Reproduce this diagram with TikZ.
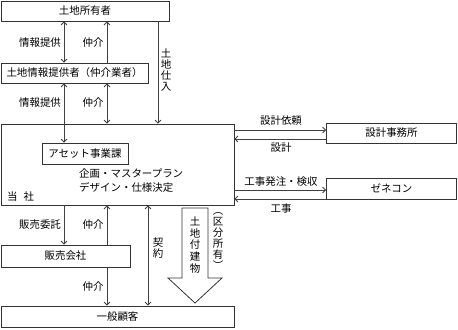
\documentclass[tikz,border=0pt]{standalone}
\usepackage{fontspec}
\setmainfont{Noto Sans CJK JP}
\usetikzlibrary{arrows.meta}

\begin{document}
\begin{tikzpicture}[
    x=1bp, y=-1bp,
    box/.style={
      draw=black!80,
      line width=0.8bp,
      inner sep=0pt,
      font=\fontsize{10.5}{12}\selectfont
    },
    lbl/.style={inner sep=0pt, font=\fontsize{10.5}{12}\selectfont},
    vlbl/.style={inner sep=0pt, align=center, font=\fontsize{10.5}{11}\selectfont},
    arrow/.style={-{Straight Barb[length=3bp, width=6bp]}, draw=black!75, line width=0.8bp},
    biarrow/.style={{Straight Barb[length=3bp, width=6bp]}-{Straight Barb[length=3bp, width=6bp]}, draw=black!75, line width=0.8bp}
  ]
    \useasboundingbox (0,0) rectangle (458,329);

    \node[box, minimum width=168bp, minimum height=20bp] (owner) at (85,11) {土地所有者};
    \node[box, minimum width=147bp, minimum height=20bp] (broker) at (74.5,73) {土地情報提供者（仲介業者）};
    \node[box, minimum width=233bp, minimum height=81bp] (company) at (117.5,164.5) {};
    \node[box, minimum width=86bp, minimum height=21bp] (asset) at (85,153.5) {アセット事業課};
    \node[box, minimum width=130bp, minimum height=20bp] (office) at (391.5,133) {設計事務所};
    \node[box, minimum width=130bp, minimum height=21bp] (gencon) at (391.5,188.5) {ゼネコン};
    \node[box, minimum width=129bp, minimum height=22bp] (sales) at (65.5,256) {販売会社};
    \node[box, minimum width=233bp, minimum height=21bp] (customer) at (117.5,316.5) {一般顧客};

    \node[lbl, anchor=west, align=left, font=\fontsize{10.5}{14}\selectfont] (plan) at (79,181) {企画・マスタープラン\\デザイン・仕様決定};
    \node[lbl, anchor=west] (self) at (7,197) {当\hspace{6bp}社};

    \coordinate (ca) at (64,0);
    \coordinate (cb) at (107,0);
    \coordinate (cc) at (158,0);
    \coordinate (cd) at (148,0);
    \coordinate (ra) at (0,130);
    \coordinate (rb) at (0,139);
    \coordinate (rc) at (0,190);
    \coordinate (rd) at (0,199);

    \draw[biarrow] (owner.south -| ca) -- (broker.north -| ca);
    \draw[arrow] (broker.north -| cb) -- (owner.south -| cb);
    \draw[arrow] (owner.south -| cc) -- (company.north -| cc);
    \draw[biarrow] (broker.south -| ca) -- (asset.north -| ca);
    \draw[biarrow] (broker.south -| cb) -- (company.north -| cb);
    \draw[arrow] (company.east |- ra) -- (office.west |- ra);
    \draw[arrow] (office.west |- rb) -- (company.east |- rb);
    \draw[arrow] (company.east |- rc) -- (gencon.west |- rc);
    \draw[arrow] (gencon.west |- rd) -- (company.east |- rd);
    \draw[arrow] (company.south -| ca) -- (sales.north -| ca);
    \draw[arrow] (sales.north -| cb) -- (company.south -| cb);
    \draw[arrow] (sales.south -| cb) -- (customer.north -| cb);
    \draw[biarrow] (company.south -| cd) -- (customer.north -| cd);

    \node[lbl] (infoA) at (40,43) {情報提供};
    \node[lbl] (brokA) at (93,43) {仲介};
    \node[vlbl] (buyland) at (166,70) {土\\地\\仕\\入};
    \node[lbl] (infoB) at (40,103) {情報提供};
    \node[lbl] (brokB) at (93,103) {仲介};
    \node[lbl] (order) at (281,121) {設計依頼};
    \node[lbl] (design) at (281,148) {設計};
    \node[lbl] (contract) at (281,182) {工事発注・検収};
    \node[lbl] (build) at (281,209) {工事};
    \node[lbl] (consign) at (40,225) {販売委託};
    \node[lbl] (brokC) at (93,225) {仲介};
    \node[lbl] (brokD) at (93,287) {仲介};
    \node[vlbl] (deal) at (158,248) {契\\約};

    \draw[draw=black!80, line width=0.8bp] (182,208) -- (208,208) -- (208,278) -- (222,278) -- (195,303) -- (168,278) -- (182,278) -- cycle;
    \node[vlbl, font=\fontsize{10.5}{12}\selectfont] (estate) at (195,245) {土\\地\\付\\建\\物};
    \node[vlbl] (unitown) at (218,241) {︵\\区\\分\\所\\有\\︶};
  \end{tikzpicture}
\end{document}
